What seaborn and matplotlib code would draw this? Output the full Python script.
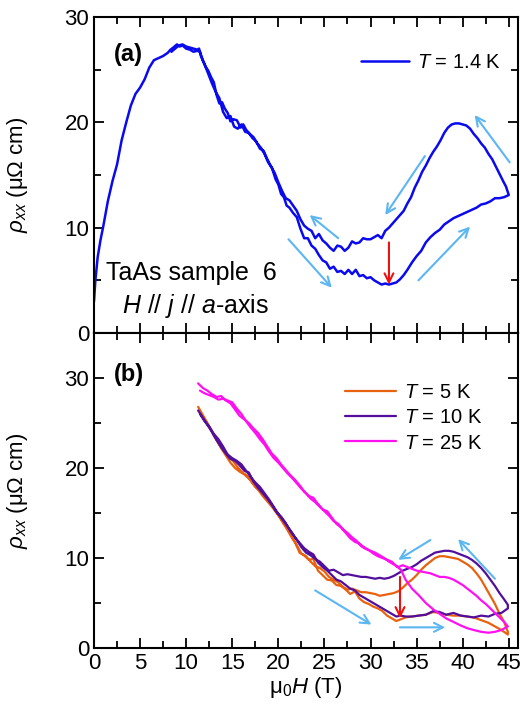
import numpy as np
import pandas as pd
import matplotlib
matplotlib.use("Agg")
import matplotlib.pyplot as plt
import seaborn as sns
from matplotlib.lines import Line2D
from matplotlib.ticker import MultipleLocator

# --- data: (a) T = 1.4 K, up-sweep then down-sweep ---
H_a_up = [0.0, 0.15, 0.4, 0.7, 1.0, 1.5, 2.0, 2.5, 3.0, 3.5, 4.0, 4.5, 5.0, 5.5, 6.0, 6.5,
          7.0, 7.5, 8.0, 8.3, 8.6, 9.0, 9.3, 9.6, 10.0, 10.4, 10.8, 11.2, 11.5, 11.8, 12.1,
          12.4, 12.7, 13.0, 13.3, 13.6, 13.9, 14.2, 14.5, 14.8, 15.1, 15.5, 15.9, 16.2, 16.5,
          16.9, 17.3, 17.7, 18.1, 18.5, 18.9, 19.3, 19.7, 20.0, 20.3, 20.6, 20.9, 21.2, 21.6,
          22.0, 22.4, 22.8, 23.2, 23.6, 24.0, 24.4, 24.8, 25.2, 25.6, 26.0, 26.4, 26.8, 27.2,
          27.6, 28.0, 28.4, 28.8, 29.2, 29.6, 30.0, 30.4, 30.8, 31.2, 31.6, 32.0, 32.4, 32.8,
          33.2, 33.6, 34.0, 34.5, 35.0, 35.5, 36.0, 36.5, 37.0, 37.5, 38.0, 38.5, 39.0, 39.5,
          40.0, 40.5, 41.0, 41.5, 42.0, 42.5, 43.0, 43.5, 44.0, 44.5, 45.0]
rho_a_up = [3.0, 5.0, 7.2, 8.8, 10.1, 12.5, 14.4, 16.0, 18.3, 20.0, 21.6, 22.7, 23.3, 24.1,
            25.2, 25.9, 26.1, 26.3, 26.6, 26.9, 27.1, 27.4, 27.2, 27.3, 27.0, 26.9, 26.7, 26.8,
            26.7, 25.9, 25.3, 24.9, 24.3, 23.8, 22.6, 21.8, 21.9, 21.3, 20.9, 20.1, 20.3, 20.2,
            19.5, 19.8, 19.3, 18.9, 18.6, 18.0, 17.6, 17.0, 16.2, 15.7, 14.6, 14.1, 13.2, 12.9,
            12.1, 11.9, 11.4, 11.0, 9.9, 9.0, 9.0, 8.3, 8.0, 7.4, 6.9, 6.7, 6.1, 6.3, 5.8, 5.9,
            5.6, 6.0, 5.6, 6.0, 5.4, 5.5, 5.2, 5.3, 5.0, 4.8, 4.6, 4.7, 4.6, 4.7, 4.8, 5.1, 5.5,
            6.0, 6.7, 7.3, 7.8, 8.6, 9.1, 9.5, 9.8, 10.3, 10.6, 10.9, 11.1, 11.3, 11.5, 11.7,
            11.9, 12.2, 12.3, 12.5, 12.8, 12.8, 12.9, 13.1]
H_a_dn = [45.0, 44.7, 44.4, 44.0, 43.6, 43.2, 42.8, 42.4, 42.0, 41.6, 41.2, 40.8, 40.4, 40.0,
          39.6, 39.2, 38.8, 38.4, 38.0, 37.6, 37.2, 36.8, 36.4, 36.0, 35.6, 35.2, 34.8, 34.4,
          34.0, 33.6, 33.2, 32.8, 32.4, 32.0, 31.6, 31.2, 30.8, 30.4, 30.0, 29.6, 29.2, 28.8,
          28.4, 28.0, 27.6, 27.2, 26.8, 26.4, 26.0, 25.6, 25.2, 24.8, 24.4, 24.0, 23.6, 23.2,
          22.8, 22.4, 22.0, 21.6, 21.2, 20.8, 20.4, 20.0, 19.6, 19.2, 18.8, 18.4, 18.0, 17.6,
          17.2, 16.8, 16.4, 16.0, 15.6, 15.2, 14.8, 14.4, 14.0, 13.6, 13.2, 12.8, 12.4, 12.0,
          11.6, 11.4, 11.2, 10.8, 10.4, 10.0, 9.6, 9.2, 8.8, 8.4]
rho_a_dn = [13.1, 13.9, 14.4, 15.1, 15.8, 16.5, 17.0, 17.6, 18.0, 18.5, 18.9, 19.4, 19.7, 19.8,
            19.9, 19.9, 19.8, 19.5, 19.0, 18.3, 17.7, 17.2, 16.6, 15.9, 15.3, 14.5, 13.8, 12.9,
            12.3, 11.6, 11.2, 10.8, 10.4, 10.0, 9.7, 9.0, 9.3, 9.1, 8.9, 8.9, 9.0, 8.6, 8.5,
            8.7, 8.1, 7.8, 8.2, 8.3, 7.8, 8.1, 8.5, 8.8, 9.4, 9.0, 9.7, 9.9, 10.2, 10.8, 11.6,
            12.1, 12.6, 12.8, 13.5, 14.3, 15.2, 15.8, 16.5, 17.3, 17.5, 18.2, 18.5, 19.0, 19.1,
            19.8, 19.4, 19.6, 20.6, 20.4, 21.0, 22.3, 22.9, 23.7, 24.6, 25.5, 26.3, 27.0, 26.9,
            27.0, 27.1, 27.2, 27.4, 27.3, 27.0, 26.7]

# --- (b) higher temperatures ---
H_b_up = [11.3, 11.8, 12.3, 12.8, 13.3, 13.8, 14.3, 14.8, 15.3, 15.8, 16.3, 16.8, 17.3, 17.8,
          18.3, 18.8, 19.3, 19.8, 20.3, 20.8, 21.3, 21.8, 22.3, 22.8, 23.3, 23.8, 24.3, 24.8,
          25.3, 25.8, 26.3, 26.8, 27.3, 27.8, 28.3, 28.8, 29.3, 29.8, 30.3, 30.8, 31.3, 31.8,
          32.3, 32.8, 33.3, 33.8, 34.5, 35.2, 36.0, 36.8, 37.5, 38.2, 39.0, 39.8, 40.5, 41.2,
          42.0, 42.8, 43.5, 44.2, 44.9]
H_b_dn = [44.9, 44.5, 44.0, 43.5, 43.0, 42.5, 42.0, 41.5, 41.0, 40.5, 40.0, 39.5, 39.0, 38.5,
          38.0, 37.5, 37.0, 36.5, 36.0, 35.5, 35.0, 34.5, 34.0, 33.5, 33.0, 32.5, 32.0, 31.5,
          31.0, 30.5, 30.0, 29.5, 29.0, 28.5, 28.0, 27.5, 27.0, 26.5, 26.0, 25.5, 25.0, 24.5,
          24.0, 23.5, 23.0, 22.5, 22.0, 21.5, 21.0, 20.5, 20.0, 19.5, 19.0, 18.5, 18.0, 17.5,
          17.0, 16.5, 16.0, 15.5, 15.0, 14.5, 14.0, 13.5, 13.0, 12.5, 12.0, 11.5]

rho_5K_up = [26.8, 25.9, 25.0, 24.1, 23.1, 22.2, 21.4, 20.6, 20.0, 19.6, 19.3, 18.9, 18.2, 17.6,
             16.9, 16.3, 15.7, 15.0, 14.3, 13.7, 12.7, 11.8, 10.6, 10.3, 9.8, 9.9, 8.6, 8.1,
             7.6, 7.5, 7.0, 6.9, 6.5, 6.0, 6.3, 5.5, 5.1, 4.9, 4.6, 4.4, 4.1, 3.6, 3.3, 3.0,
             3.2, 3.4, 3.5, 3.6, 3.7, 4.0, 3.9, 3.7, 3.6, 3.6, 3.5, 3.4, 3.1, 2.8, 2.4, 2.0, 1.5]
rho_5K_dn = [1.8, 2.9, 3.8, 4.9, 5.8, 6.7, 7.6, 8.3, 8.9, 9.3, 9.6, 9.9, 10.0, 10.1, 10.2, 10.2,
             10.0, 9.6, 9.2, 8.7, 8.1, 7.6, 7.2, 6.7, 6.3, 6.1, 6.0, 5.9, 5.8, 6.0, 6.1, 6.2,
             6.2, 6.4, 6.6, 6.5, 6.8, 7.3, 7.6, 7.9, 8.5, 8.9, 9.1, 9.6, 10.2, 10.5, 11.4, 12.2,
             13.1, 13.9, 14.8, 15.6, 16.2, 17.1, 17.5, 17.9, 18.6, 19.2, 19.6, 20.2, 20.9, 21.5,
             22.0, 22.8, 23.6, 24.6, 25.4, 26.2]
rho_10K_up = [26.4, 25.6, 24.8, 24.0, 23.1, 22.3, 21.6, 21.0, 20.8, 20.3, 19.7, 19.5, 18.5,
              17.8, 17.2, 16.6, 15.9, 15.1, 14.6, 13.9, 13.0, 12.3, 11.7, 11.1, 10.7, 10.4, 9.5,
              9.0, 8.6, 8.1, 7.6, 7.4, 7.0, 6.6, 6.4, 5.9, 5.6, 5.3, 5.0, 4.7, 4.4, 4.1, 3.8,
              3.5, 3.6, 3.5, 3.5, 3.6, 3.7, 4.1, 4.0, 3.7, 3.9, 3.6, 3.5, 3.4, 3.6, 3.5, 3.8,
              3.9, 4.4]
rho_10K_dn = [4.8, 5.4, 6.1, 6.9, 7.6, 8.3, 8.9, 9.4, 9.8, 10.1, 10.3, 10.5, 10.7, 10.8, 10.8,
              10.7, 10.6, 10.3, 10.0, 9.7, 9.3, 9.0, 8.8, 8.6, 8.3, 8.0, 7.8, 7.7, 7.8, 7.7, 7.8,
              7.9, 7.9, 8.0, 8.1, 8.2, 8.1, 8.4, 8.7, 8.6, 9.1, 9.6, 9.9, 10.3, 10.6, 11.2, 12.0,
              12.8, 13.5, 14.2, 14.9, 15.7, 16.5, 17.2, 17.9, 18.4, 19.0, 19.7, 20.4, 20.8, 21.1,
              21.5, 22.4, 23.2, 23.8, 24.6, 25.2, 26.0]
rho_25K_up = [29.4, 28.9, 28.6, 28.2, 27.9, 28.0, 27.5, 27.2, 26.5, 25.8, 25.4, 25.0, 24.4,
              23.9, 23.2, 22.4, 21.6, 21.1, 20.4, 19.8, 19.2, 18.7, 18.1, 17.4, 16.9, 16.7, 16.0,
              15.4, 15.2, 14.5, 13.8, 13.4, 12.8, 12.2, 11.8, 11.6, 11.2, 10.9, 10.5, 10.2, 10.0,
              9.8, 9.6, 9.1, 8.7, 7.6, 6.6, 5.9, 5.0, 4.3, 3.8, 3.3, 2.9, 2.5, 2.2, 2.0, 1.8,
              1.7, 1.8, 2.0, 2.4]
rho_25K_dn = [2.4, 2.9, 3.4, 3.9, 4.4, 4.9, 5.3, 5.8, 6.2, 6.6, 7.0, 7.3, 7.6, 7.8, 7.9, 7.9,
              8.1, 8.3, 8.4, 8.5, 8.6, 8.8, 9.0, 9.2, 9.0, 9.3, 9.6, 10.0, 10.3, 10.6, 10.8, 11.0,
              11.3, 11.9, 12.3, 12.8, 13.2, 13.8, 14.1, 14.7, 15.2, 15.7, 16.2, 16.6, 17.2, 17.7,
              18.3, 18.9, 19.4, 20.0, 20.6, 21.1, 21.8, 22.6, 23.2, 23.9, 24.5, 25.2, 26.0, 26.6,
              27.3, 27.5, 27.7, 27.6, 27.9, 28.1, 28.3, 28.6]

temps_b = ["5 K", "10 K", "25 K"]
colors_b = {"5 K": "#e8610e", "10 K": "#520f9c", "25 K": "#ff10f0"}

# sweep-direction arrows (tail, head) in data units
arrows_a = [((45.1, 16.2), (41.3, 20.7)), ((35.9, 16.8), (31.6, 11.2)),
            ((26.5, 9.0), (23.4, 11.2)), ((21.1, 8.9), (25.8, 4.3)),
            ((35.2, 5.0), (40.8, 10.1))]
arrows_b = [((43.5, 7.7), (39.5, 12.1)), ((36.5, 12.0), (33.0, 9.8)),
            ((24.0, 6.4), (30.1, 2.6)), ((33.2, 2.3), (38.1, 2.3))]
red_a = ((32.0, 8.6), (32.0, 4.6))
red_b = ((33.2, 7.9), (33.2, 3.3))

def set_style():
    sns.set_theme(style="ticks")
    plt.rcParams['font.family'] = ['Liberation Sans', 'DejaVu Sans']
    plt.rcParams['mathtext.fontset'] = 'custom'
    plt.rcParams['mathtext.rm'] = 'Liberation Sans'
    plt.rcParams['mathtext.it'] = 'Liberation Sans:italic'
    plt.rcParams['axes.linewidth'] = 1.5
    plt.rcParams['axes.edgecolor'] = 'black'
    plt.rcParams['text.color'] = 'black'
    plt.rcParams['axes.labelcolor'] = 'black'
    plt.rcParams['xtick.color'] = 'black'
    plt.rcParams['ytick.color'] = 'black'

def style_axes(ax, ylim):
    ax.set_xlim(0, 46)
    ax.set_ylim(*ylim)
    ax.xaxis.set_major_locator(MultipleLocator(5))
    ax.xaxis.set_minor_locator(MultipleLocator(2.5))
    ax.yaxis.set_major_locator(MultipleLocator(10))
    ax.yaxis.set_minor_locator(MultipleLocator(5))
    ax.tick_params(which='both', direction='in', top=True, right=True,
                   labelsize=16, width=1.3)
    ax.tick_params(which='major', length=7)
    ax.tick_params(which='minor', length=5)
    ax.set_ylabel(r'$\rho_{xx}$ (μΩ cm)', fontsize=16)
    ax.yaxis.set_label_coords(-0.15, 0.5)

def draw_arrows(ax, arrows, color, lw=1.5):
    for tail, head in arrows:
        ax.annotate('', xy=head, xytext=tail,
                    arrowprops=dict(arrowstyle='->', color=color, lw=lw,
                                    shrinkA=0, shrinkB=0, mutation_scale=16))

set_style()
fig = plt.figure(figsize=(5.31, 7.09), dpi=100)
ax_a = fig.add_axes([0.177, 0.5303, 0.7985, 0.4457])
ax_b = fig.add_axes([0.177, 0.086, 0.7985, 0.4443])

# panel (a)
df_a = pd.DataFrame({'H': H_a_up + H_a_dn, 'rho': rho_a_up + rho_a_dn})
sns.lineplot(data=df_a, x='H', y='rho', sort=False, estimator=None, color='#0a0aee',
             lw=1.8, ax=ax_a, legend=False)
style_axes(ax_a, (0, 30))
ax_a.set_xlabel('')
ax_a.tick_params(labelbottom=False)
draw_arrows(ax_a, arrows_a, '#5bb6f2')
draw_arrows(ax_a, [red_a], '#f01010')
ax_a.text(2.2, 26.4, '(a)', fontsize=17, fontweight='bold', va='center', ha='left')
ax_a.text(10.6, 5.7, 'TaAs sample  6', fontsize=18, va='center', ha='center')
ax_a.text(11.0, 2.6, '$H$ // $j$ // $a$-axis', fontsize=18, va='center', ha='center')
ax_a.legend(handles=[Line2D([], [], color='#0a0aee', lw=1.8)], labels=['$T$ = 1.4 K'],
            loc='upper right', bbox_to_anchor=(0.96, 0.885), frameon=False, fontsize=14.5,
            handlelength=2.4, handletextpad=0.4, borderpad=0, borderaxespad=0)

# panel (b)
frames = []
for T, up, dn in zip(temps_b, [rho_5K_up, rho_10K_up, rho_25K_up],
                     [rho_5K_dn, rho_10K_dn, rho_25K_dn]):
    frames.append(pd.DataFrame({'H': H_b_up + H_b_dn, 'rho': up + dn, 'T': T}))
df_b = pd.concat(frames, ignore_index=True)
sns.lineplot(data=df_b, x='H', y='rho', hue='T', hue_order=temps_b, palette=colors_b,
             sort=False, estimator=None, lw=1.6, ax=ax_b, legend=False)
style_axes(ax_b, (0, 35))
ax_b.set_xlabel('μ$_0$$H$ (T)', fontsize=16, labelpad=1)
draw_arrows(ax_b, arrows_b, '#5bb6f2')
draw_arrows(ax_b, [red_b], '#f01010')
ax_b.text(2.2, 30.4, '(b)', fontsize=17, fontweight='bold', va='center', ha='left')
handles = [Line2D([], [], color=colors_b[T], lw=1.6) for T in temps_b]
ax_b.legend(handles=handles, labels=['$T$ = ' + T for T in temps_b],
            loc='upper right', bbox_to_anchor=(0.915, 0.84), frameon=False, fontsize=14.5,
            handlelength=2.5, handletextpad=0.4, labelspacing=0.3, borderpad=0,
            borderaxespad=0)

fig.savefig('out.png', dpi=100)
